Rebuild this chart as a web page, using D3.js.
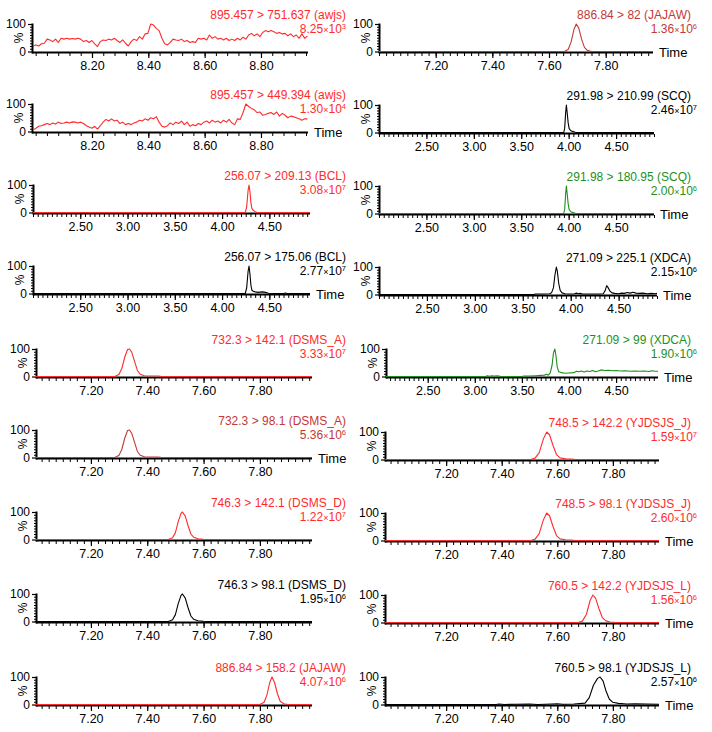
<!DOCTYPE html>
<html><head><meta charset="utf-8">
<script src="https://cdn.jsdelivr.net/npm/d3@7"></script>
<style>body{margin:0;background:#fff}svg{display:block}text{font-family:"Liberation Sans",Arial,sans-serif}</style>
</head><body>
<script>
// ---------- DATA ----------
// noisy traces sampled on a regular time grid (start, step), values in %
const awjs751Start = 7.991, awjs751Step = 0.00994;
const awjs751Values = [20,24,20,28,30,45,42,36,45,33,48,45,48,45,47,45,48,45,36,40,33,40,28,18,36,42,40,45,42,48,40,33,42,30,20,36,45,40,54,45,64,66,100,96,84,76,48,28,24,33,45,42,40,45,36,40,33,36,33,48,45,48,42,60,48,54,45,48,42,48,40,45,40,48,42,52,45,60,66,57,64,54,69,76,72,76,72,66,69,64,66,57,64,54,60,48,64,48,57];
const awjs449Start = 7.991, awjs449Step = 0.00994;
const awjs449Values = [6,12,19,21,25,29,25,31,27,34,29,31,34,31,35,34,31,34,29,21,16,12,19,9,21,34,44,38,46,38,41,29,34,25,29,25,31,34,41,38,46,41,50,46,54,34,19,16,21,31,25,34,29,38,25,34,19,25,21,29,25,34,38,31,41,34,38,31,41,34,44,31,25,46,44,69,100,91,84,79,69,71,59,62,66,69,62,71,56,66,59,50,56,54,50,46,41,46,46];

// peak traces as [time, %] pairs
const jajaw82 = [[7.0,0],[7.655,0],[7.668,8],[7.678,35],[7.688,80],[7.696,100],[7.705,85],[7.715,45],[7.725,15],[7.735,4],[7.75,0],[7.967,0]];
const scq211 = [[2.0,0],[3.948,0],[3.958,15],[3.968,70],[3.976,100],[3.985,70],[3.995,35],[4.005,15],[4.02,7],[4.04,4],[4.07,1],[4.085,0],[4.9,0]];
const bcl209 = [[2.0,0],[4.245,0],[4.26,20],[4.275,80],[4.285,100],[4.295,75],[4.305,35],[4.315,15],[4.33,8],[4.35,3],[4.375,0],[4.93,0]];
const scq181 = [[2.0,0],[3.948,0],[3.958,15],[3.968,70],[3.976,100],[3.985,70],[3.995,35],[4.005,15],[4.02,7],[4.04,4],[4.07,1],[4.085,0],[4.9,0]];
const bcl175 = [[2.0,0],[4.245,0],[4.26,20],[4.275,80],[4.285,100],[4.295,70],[4.305,30],[4.315,12],[4.33,8],[4.35,6],[4.38,4],[4.40,5],[4.43,6],[4.46,4],[4.49,1],[4.55,0],[4.65,0],[4.67,2],[4.69,0],[4.93,0]];
const xdca225 = [[2.0,0],[3.62,0],[3.63,2],[3.70,2],[3.78,3],[3.80,6],[3.82,25],[3.835,70],[3.85,100],[3.86,85],[3.875,40],[3.89,15],[3.91,6],[3.94,3],[4.00,2],[4.04,3],[4.06,5],[4.08,3],[4.10,4],[4.12,2],[4.2,2],[4.3,2],[4.34,3],[4.36,15],[4.375,32],[4.39,25],[4.41,12],[4.43,6],[4.46,4],[4.5,3],[4.53,5],[4.56,4],[4.59,7],[4.62,5],[4.65,8],[4.68,5],[4.72,4],[4.75,5],[4.8,3],[4.84,4],[4.88,3],[4.9,4]];
const dsmsA142 = [[7.0,0],[7.285,0],[7.30,8],[7.31,30],[7.32,70],[7.33,98],[7.337,100],[7.345,88],[7.355,55],[7.365,22],[7.375,8],[7.39,3],[7.42,2],[7.44,2],[7.45,0],[7.985,0]];
const xdca99 = [[2.057,0],[3.12,0],[3.13,3],[3.16,1],[3.18,3],[3.21,2],[3.24,3],[3.27,1],[3.29,0],[3.50,0],[3.52,2],[3.58,2],[3.65,3],[3.70,4],[3.74,5],[3.76,8],[3.78,5],[3.80,12],[3.82,40],[3.835,85],[3.85,100],[3.86,80],[3.875,35],[3.89,18],[3.92,14],[3.96,12],[4.0,13],[4.05,14],[4.08,19],[4.10,17],[4.13,20],[4.16,16],[4.19,20],[4.22,18],[4.25,22],[4.28,17],[4.31,20],[4.34,24],[4.38,22],[4.42,23],[4.46,21],[4.50,22],[4.55,20],[4.60,21],[4.65,19],[4.70,20],[4.75,19],[4.80,20],[4.85,18],[4.88,21],[4.91,19],[4.945,19]];
const dsmsA98 = [[7.0,0],[7.285,0],[7.30,8],[7.31,30],[7.32,70],[7.33,98],[7.337,100],[7.345,88],[7.355,55],[7.365,22],[7.375,8],[7.39,3],[7.42,2],[7.44,2],[7.45,0],[7.985,0]];
const yjJ142 = [[6.98,0],[7.505,0],[7.52,5],[7.535,25],[7.55,75],[7.562,100],[7.572,90],[7.585,50],[7.597,18],[7.61,6],[7.63,3],[7.65,2],[7.665,0],[7.966,0]];
const dsmsD142 = [[7.0,0],[7.475,0],[7.49,6],[7.50,25],[7.51,65],[7.52,95],[7.525,100],[7.535,85],[7.545,50],[7.555,20],[7.565,8],[7.58,3],[7.60,1],[7.62,0],[7.985,0]];
const yjJ98 = [[6.98,0],[7.505,0],[7.52,5],[7.535,25],[7.55,75],[7.562,100],[7.572,90],[7.585,50],[7.597,18],[7.61,6],[7.63,3],[7.65,2],[7.665,0],[7.966,0]];
const dsmsD98 = [[7.0,0],[7.475,0],[7.49,6],[7.50,25],[7.51,65],[7.52,95],[7.525,100],[7.535,85],[7.545,50],[7.555,20],[7.565,8],[7.58,3],[7.60,1],[7.62,0],[7.985,0]];
const yjL142 = [[6.98,0],[7.675,0],[7.69,5],[7.705,30],[7.718,80],[7.728,100],[7.738,88],[7.75,50],[7.762,18],[7.775,6],[7.79,2],[7.81,0],[7.966,0]];
const jajaw158 = [[7.0,0],[7.80,0],[7.815,8],[7.825,35],[7.835,80],[7.843,100],[7.852,80],[7.862,40],[7.872,12],[7.885,3],[7.90,0],[7.985,0]];
const yjL98 = [[6.98,0],[7.38,0],[7.39,2],[7.41,0],[7.45,1],[7.50,2],[7.53,0],[7.58,2],[7.60,3],[7.62,1],[7.66,2],[7.70,5],[7.715,25],[7.73,70],[7.745,95],[7.754,100],[7.765,85],[7.775,50],[7.787,20],[7.80,8],[7.82,4],[7.85,2],[7.88,3],[7.92,2],[7.966,1]];

const ticks8 = [8.20, 8.40, 8.60, 8.80];
const ticks7 = [7.20, 7.40, 7.60, 7.80];
const ticks2 = [2.50, 3.00, 3.50, 4.00, 4.50];
const yTicks = [0, 100];

function regular(start, step, vals){ return vals.map((v,i)=>[start+i*step, v]); }

const RED = "#ff2b2b", DRED = "#c43838", GREEN = "#1e8f1e", BLACK = "#000";

// ---------- LAYOUT ----------
const panels = [
 // left column
 {title:"895.457 > 751.637 (awjs)", m:"8.25", p:"3", color:RED, data:regular(awjs751Start,awjs751Step,awjs751Values), domain:[7.987,8.967], x0:32, x1:308, base:52, ticks:ticks8, minor:0.04, time:false, col:0},
 {title:"895.457 > 449.394 (awjs)", m:"1.30", p:"4", color:RED, data:regular(awjs449Start,awjs449Step,awjs449Values), domain:[7.987,8.967], x0:32, x1:308, base:132, ticks:ticks8, minor:0.04, time:true, col:0},
 {title:"256.07 > 209.13 (BCL)", m:"3.08", p:"7", color:RED, data:bcl209, domain:[2.0,4.93], x0:33, x1:310, base:213, ticks:ticks2, minor:0.05, time:false, col:0},
 {title:"256.07 > 175.06 (BCL)", m:"2.77", p:"7", color:BLACK, data:bcl175, domain:[2.0,4.93], x0:33, x1:310, base:294, ticks:ticks2, minor:0.05, time:true, col:0},
 {title:"732.3 > 142.1 (DSMS_A)", m:"3.33", p:"7", color:RED, data:dsmsA142, domain:[7.005,7.985], x0:36, x1:312, base:377, ticks:ticks7, minor:0.025, time:false, col:0},
 {title:"732.3 > 98.1 (DSMS_A)", m:"5.36", p:"6", color:DRED, data:dsmsA98, domain:[7.005,7.985], x0:36, x1:312, base:458, ticks:ticks7, minor:0.025, time:true, col:0},
 {title:"746.3 > 142.1 (DSMS_D)", m:"1.22", p:"7", color:RED, data:dsmsD142, domain:[7.005,7.985], x0:36, x1:312, base:540, ticks:ticks7, minor:0.025, time:false, col:0},
 {title:"746.3 > 98.1 (DSMS_D)", m:"1.95", p:"6", color:BLACK, data:dsmsD98, domain:[7.005,7.985], x0:36, x1:312, base:622, ticks:ticks7, minor:0.025, time:false, col:0},
 {title:"886.84 > 158.2 (JAJAW)", m:"4.07", p:"6", color:RED, data:jajaw158, domain:[7.005,7.985], x0:36, x1:312, base:705, ticks:ticks7, minor:0.025, time:false, col:0},
 // right column
 {title:"886.84 > 82 (JAJAW)", m:"1.36", p:"6", color:DRED, data:jajaw82, domain:[7.0,7.967], x0:379, x1:653, base:52, ticks:ticks7, minor:0.025, time:true, col:1},
 {title:"291.98 > 210.99 (SCQ)", m:"2.46", p:"7", color:BLACK, data:scq211, domain:[2.0,4.9], x0:379, x1:654, base:133, ticks:ticks2, minor:0.05, time:false, col:1},
 {title:"291.98 > 180.95 (SCQ)", m:"2.00", p:"6", color:GREEN, data:scq181, domain:[2.0,4.9], x0:379, x1:654, base:214, ticks:ticks2, minor:0.05, time:true, col:1},
 {title:"271.09 > 225.1 (XDCA)", m:"2.15", p:"6", color:BLACK, data:xdca225, domain:[2.0,4.9], x0:379, x1:657, base:295, ticks:ticks2, minor:0.05, time:true, col:1},
 {title:"271.09 > 99 (XDCA)", m:"1.90", p:"6", color:GREEN, data:xdca99, domain:[2.057,4.945], x0:386, x1:658, base:377, ticks:ticks2, minor:0.05, time:true, col:1},
 {title:"748.5 > 142.2 (YJDSJS_J)", m:"1.59", p:"7", color:RED, data:yjJ142, domain:[6.98,7.966], x0:385, x1:659, base:460, ticks:ticks7, minor:0.025, time:false, col:1},
 {title:"748.5 > 98.1 (YJDSJS_J)", m:"2.60", p:"6", color:RED, data:yjJ98, domain:[6.98,7.966], x0:385, x1:659, base:541, ticks:ticks7, minor:0.025, time:true, col:1},
 {title:"760.5 > 142.2 (YJDSJS_L)", m:"1.56", p:"6", color:RED, data:yjL142, domain:[6.98,7.966], x0:385, x1:659, base:623, ticks:ticks7, minor:0.025, time:true, col:1},
 {title:"760.5 > 98.1 (YJDSJS_L)", m:"2.57", p:"6", color:BLACK, data:yjL98, domain:[6.98,7.966], x0:385, x1:659, base:705, ticks:ticks7, minor:0.025, time:true, col:1}
];

const svg = d3.select("body").append("svg").attr("width",712).attr("height",732);

panels.forEach(pn => {
  const g = svg.append("g");
  const H = 28;
  const x = d3.scaleLinear().domain(pn.domain).range([pn.x0, pn.x1]);
  const y = d3.scaleLinear().domain([0,100]).range([pn.base-0.5, pn.base-H]);

  // minor x ticks
  const mn = d3.range(Math.ceil(pn.domain[0]/pn.minor-1e-6), Math.floor(pn.domain[1]/pn.minor+1e-6)+1).map(k=>+(k*pn.minor).toFixed(4));
  const minorAx = g.append("g").attr("transform",`translate(0,${pn.base+1})`)
    .call(d3.axisBottom(x).tickValues(mn).tickFormat("").tickSize(3).tickSizeOuter(0));
  minorAx.select(".domain").remove();
  minorAx.selectAll("line").attr("stroke","#000").attr("stroke-width",1);
  // major x ticks
  const majorAx = g.append("g").attr("transform",`translate(0,${pn.base+1})`)
    .call(d3.axisBottom(x).tickValues(pn.ticks).tickFormat(d3.format(".2f")).tickSize(5).tickPadding(3).tickSizeOuter(0));
  majorAx.select(".domain").remove();
  majorAx.selectAll("line").attr("stroke","#000").attr("stroke-width",1.2);
  majorAx.selectAll("text").attr("font-size",12.5).attr("fill","#000").attr("font-family",null);

  // y axis
  const yAx = g.append("g").attr("transform",`translate(${pn.x0},0)`)
    .call(d3.axisLeft(y).tickValues(yTicks).tickSize(4).tickPadding(2).tickSizeOuter(0));
  yAx.select(".domain").remove();
  yAx.selectAll("line").attr("stroke","#000").attr("stroke-width",1.2);
  yAx.selectAll("text").attr("font-size",12).attr("fill","#000").attr("font-family",null);
  const yMin = g.append("g").attr("transform",`translate(${pn.x0},0)`)
    .call(d3.axisLeft(y).tickValues([10,20,30,40,50,60,70,80,90]).tickFormat("").tickSize(2).tickSizeOuter(0));
  yMin.select(".domain").remove();
  yMin.selectAll("line").attr("stroke","#000");

  // axis lines
  g.append("line").attr("x1",pn.x0).attr("x2",pn.x1).attr("y1",pn.base+0.5).attr("y2",pn.base+0.5)
    .attr("stroke","#000").attr("stroke-width",2);
  g.append("line").attr("x1",pn.x0+0.5).attr("x2",pn.x0+0.5).attr("y1",pn.base+1.5).attr("y2",pn.base-H-0.5)
    .attr("stroke","#000").attr("stroke-width",2);

  // % label
  g.append("text").attr("transform",`translate(${pn.x0-9},${pn.base-H/2}) rotate(-90)`)
    .attr("text-anchor","middle").attr("font-size",12).attr("fill","#000").text("%");

  // trace
  g.append("path").datum(pn.data)
    .attr("d", d3.line().x(d=>x(d[0])).y(d=>y(d[1])))
    .attr("fill","none").attr("stroke",pn.color).attr("stroke-width",1.1).attr("stroke-linejoin","round");

  // titles
  const tx1 = pn.col===0 ? 346 : 691;
  const tx2 = pn.col===0 ? 346 : 697;
  g.append("text").attr("x",tx1).attr("y",pn.base-33).attr("text-anchor","end")
    .attr("font-size",12).attr("fill",pn.color).text(pn.title);
  const t2 = g.append("text").attr("x",tx2).attr("y",pn.base-19).attr("text-anchor","end")
    .attr("font-size",12).attr("fill",pn.color);
  t2.append("tspan").text(pn.m);
  t2.append("tspan").attr("font-size",9).text("×");
  t2.append("tspan").text("10");
  t2.append("tspan").attr("font-size",7.5).attr("dy",-4).text(pn.p);

  if (pn.time) {
    g.append("text").attr("x",pn.x1+6).attr("y",pn.base+5).attr("font-size",13).attr("fill","#000").text("Time");
  }
});
</script>
</body></html>
